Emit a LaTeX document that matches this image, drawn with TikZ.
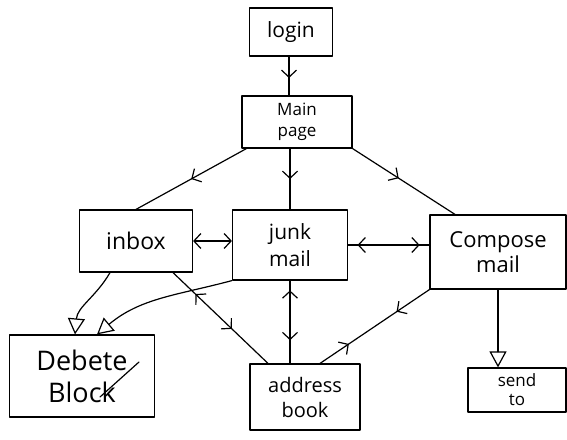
\documentclass[tikz,border=0pt]{standalone}
\usepackage{fontspec}
\setmainfont{Open Sans}
\usetikzlibrary{arrows.meta,decorations.markings,calc}
\begin{document}
\begin{tikzpicture}[x=1pt,y=-1pt,
  line width=1.2pt, line cap=round, line join=round,
  >={Straight Barb[length=7pt,width=15pt,line width=1.2pt]},
  box/.style={draw, inner sep=0pt, align=center, font=\fontsize{19}{24}\selectfont},
  fwdat/.style={postaction={decorate,decoration={markings,mark=at position #1 with {\arrow{>}}}}},
  revat/.style={postaction={decorate,decoration={markings,mark=at position #1 with {\arrow{<}}}}},
  opentip/.style={-{Triangle[open,length=16pt,width=17pt,line width=1.2pt]}}]
\useasboundingbox (0,0) rectangle (567,439);

\node[box, minimum width=83, minimum height=48, font=\fontsize{21}{24}\selectfont] (login) at (291,32) {login};
\node[box, minimum width=110, minimum height=52, font=\fontsize{17}{21}\selectfont] (main) at (297,122) {Main\\page};
\node[box, minimum width=113, minimum height=62, font=\fontsize{23}{26}\selectfont] (inbox) at (136,241) {inbox};
\node[box, minimum width=115, minimum height=70, font=\fontsize{21}{27}\selectfont] (junk) at (290,245) {junk\\mail};
\node[box, minimum width=136, minimum height=74, font=\fontsize{22}{25}\selectfont] (compose) at (498,252) {Compose\\mail};
\node[box, minimum width=145, minimum height=82, font=\fontsize{27}{32}\selectfont] (delete) at (82,376) {Debete\\Block};
\node[box, minimum width=110, minimum height=66, font=\fontsize{20}{25}\selectfont] (address) at (305,397) {address\\book};
\node[box, minimum width=98, minimum height=44, font=\fontsize{17}{19}\selectfont] (send) at (517,390) {send\\to};

\coordinate (s1) at ($(delete.center)+(57,-14)$);
\coordinate (s2) at ($(delete.center)+(18,21)$);
\draw (s1) -- (s2);

\draw[fwdat=0.55] ([xshift=-2]login.south) -- ([xshift=-2]login.south |- main.north);
\draw[fwdat=0.5] ([xshift=5]main.south west) -- (inbox.north);
\draw[fwdat=0.5] (junk.north |- main.south) -- (junk.north);
\draw[fwdat=0.45] (main.south east) -- ([xshift=-43]compose.north);

\draw[<->] (inbox.east) -- (inbox.east -| junk.west);
\draw[revat=0.22, fwdat=0.88] (junk.east) -- (junk.east -| compose.west);

\draw[opentip] ([xshift=-26]inbox.south) to[out=240,in=85] ([xshift=-7]delete.north);
\draw[opentip] (junk.south west) to[out=195,in=40] ([xshift=15]delete.north);

\draw[revat=0.3, fwdat=0.62] ([xshift=37]inbox.south) -- ([xshift=-37]address.north);
\draw[revat=0.22, fwdat=0.72] (junk.south) -- (junk.south |- address.north);
\draw[fwdat=0.3, revat=0.8] (compose.south west) -- ([xshift=15]address.north);
\draw[opentip] (compose.south) -- (compose.south |- send.north);
\end{tikzpicture}
\end{document}
